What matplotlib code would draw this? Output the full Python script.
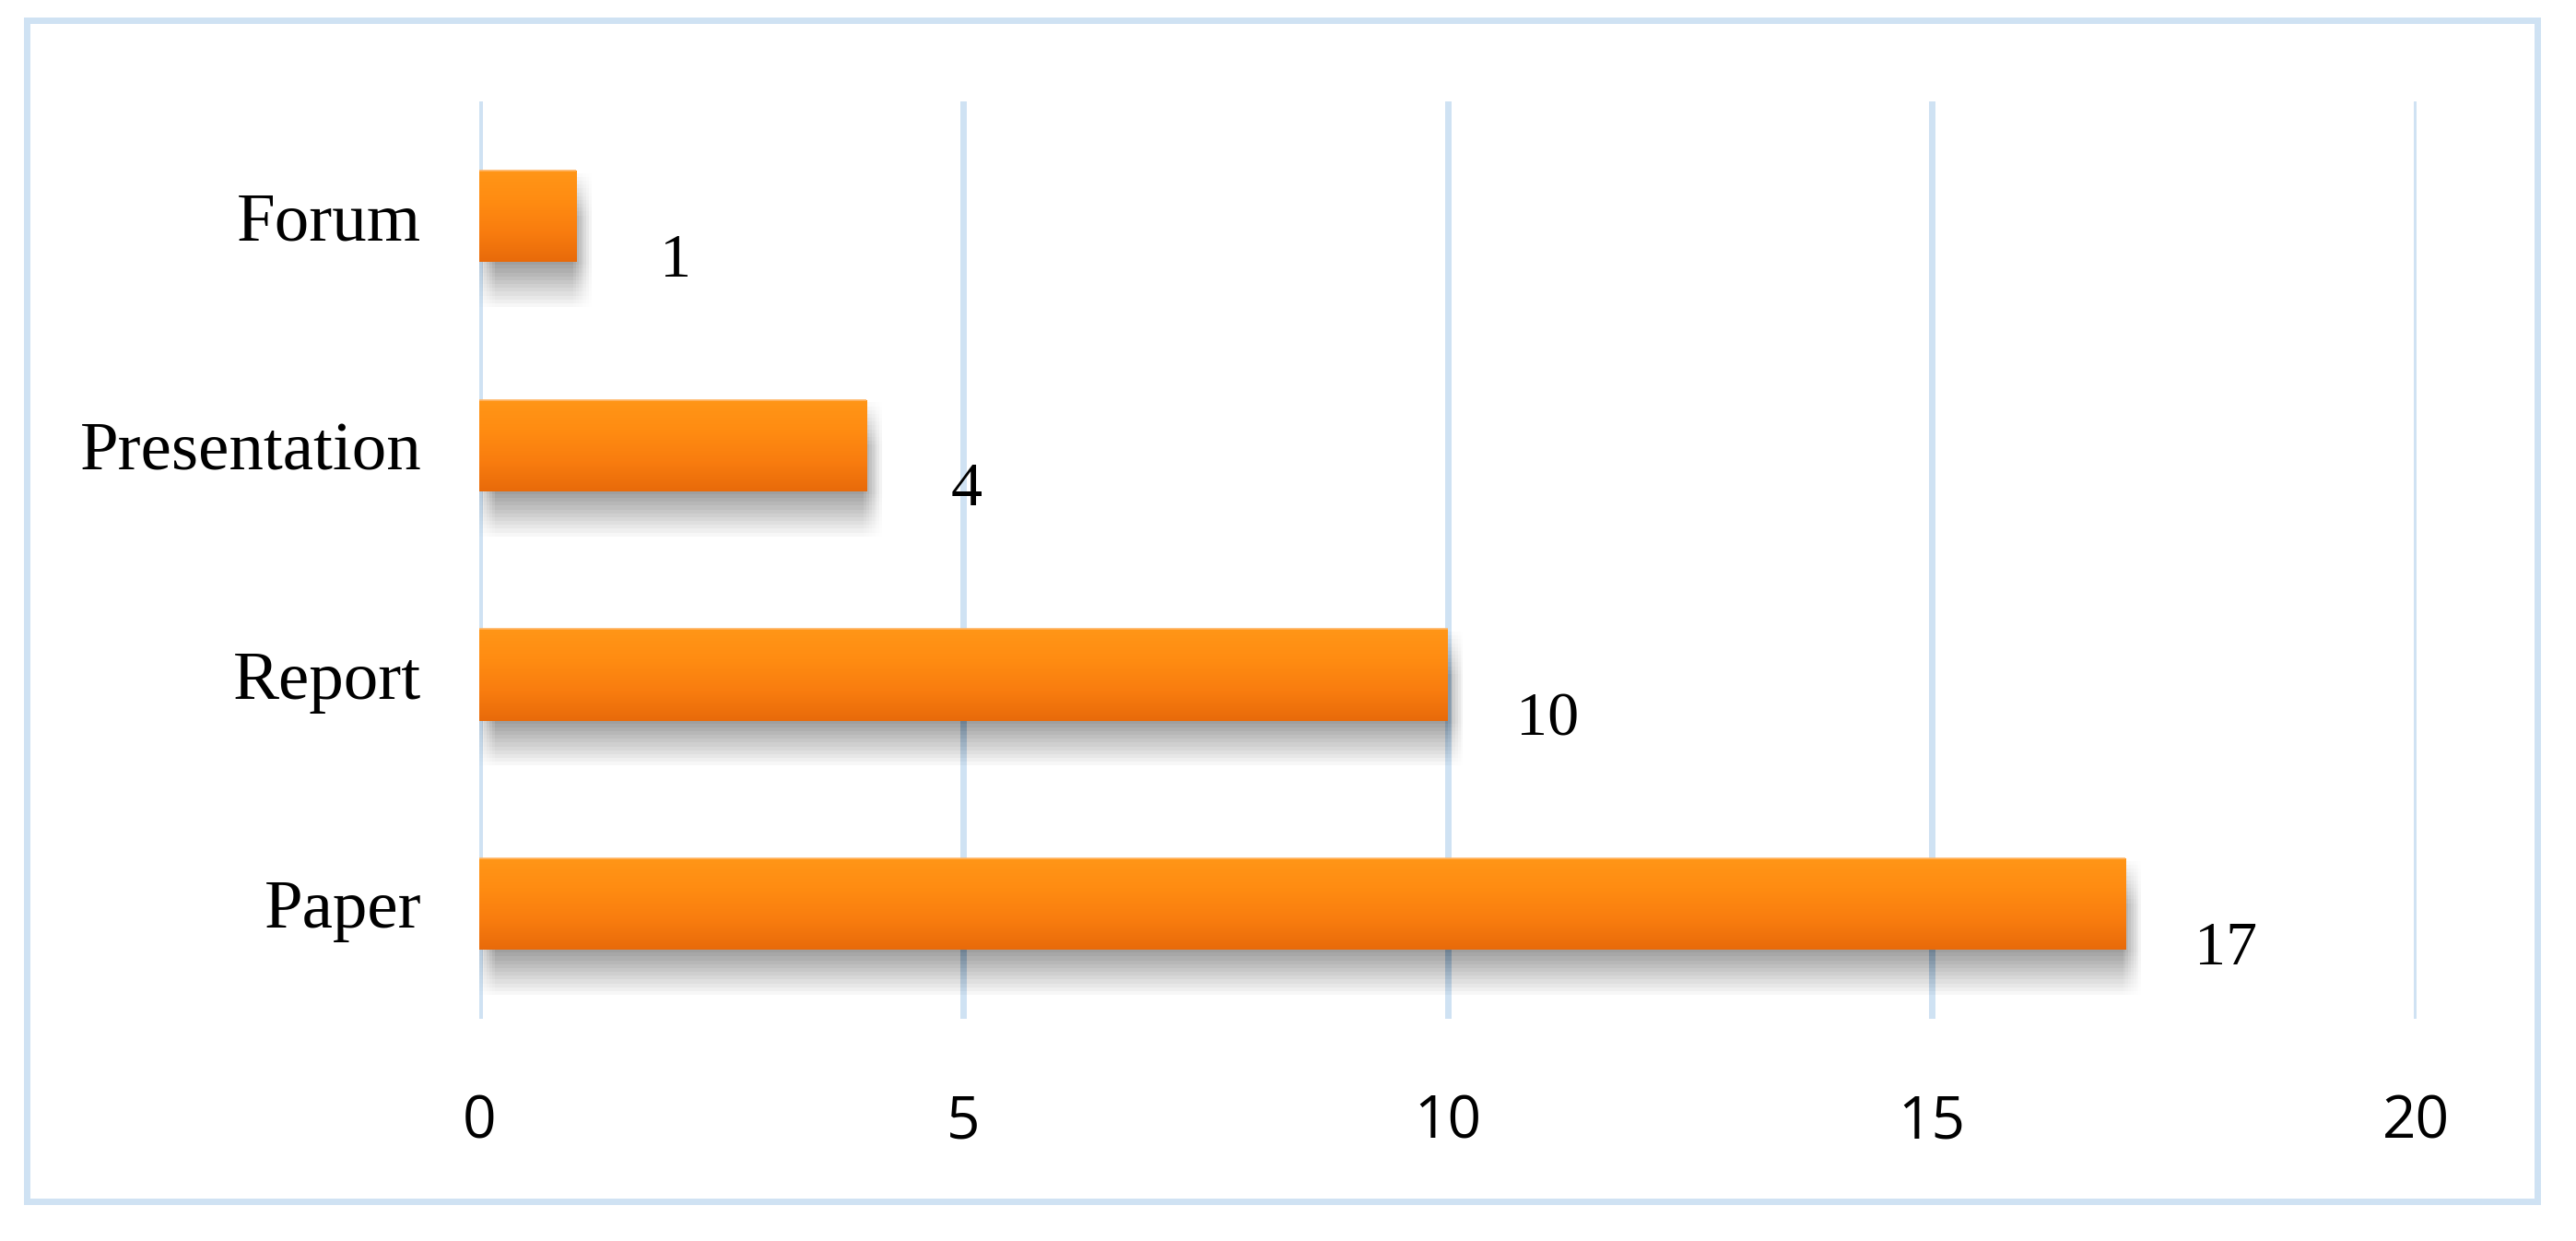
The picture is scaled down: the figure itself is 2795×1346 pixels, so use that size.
import matplotlib.pyplot as plt
import matplotlib.patheffects as pe
from matplotlib.colors import LinearSegmentedColormap
from matplotlib.patches import Rectangle
import numpy as np

# Data
categories = ['Paper', 'Report', 'Presentation', 'Forum']
counts = [17, 10, 4, 1]
x_ticks = [0, 5, 10, 15, 20]

grid_blue = '#cfe2f3'
bar_cmap = LinearSegmentedColormap.from_list(
    'bar', ['#ff9617', '#ff8c12', '#f97d0f', '#e86a0a'])

fig = plt.figure(figsize=(27.95, 13.46), dpi=100, facecolor='white')
ax = fig.add_axes([0.186, 0.179, 0.752, 0.739])

y = np.arange(len(categories))

# soft drop shadow, built from stacked offset copies
shadow = []
for dx in range(-2, 13, 2):
    for dy in range(2, 38, 3):
        shadow.append(pe.SimplePatchShadow(offset=(dx, -dy), shadow_rgbFace='black', alpha=0.0055))
shadow.append(pe.Normal())

bars = ax.barh(y, counts, height=0.4, color='#ff8c12', edgecolor='none',
               zorder=3, path_effects=shadow)

# vertical gradient on each bar
grad = np.linspace(0, 1, 256).reshape(-1, 1)
for b in bars:
    x0, y0 = b.get_x(), b.get_y()
    w, h = b.get_width(), b.get_height()
    im = ax.imshow(grad, cmap=bar_cmap, aspect='auto', origin='upper',
                   extent=(x0, x0 + w, y0, y0 + h), zorder=4)
    im.set_clip_path(b)
    # thin light edge on top
    ax.plot([x0, x0 + w], [y0 + h, y0 + h], color='#ffb565', lw=1.2, zorder=5,
            solid_capstyle='butt')

# value labels
for yi, v in zip(y, counts):
    ax.annotate(str(v), (v, yi), xytext=(78, -35), textcoords='offset points',
                ha='center', va='center', fontsize=49, family='Liberation Serif')

ax.set_xlim(0, 20)
ax.set_ylim(-0.5, len(categories) - 0.5)
ax.set_xticks(x_ticks)
ax.set_xticklabels([str(t) for t in x_ticks], fontsize=46, family='Open Sans')
ax.set_yticks(y)
ax.set_yticklabels(categories, fontsize=54, family='Liberation Serif')
ax.tick_params(axis='x', length=0, pad=58)
ax.tick_params(axis='y', length=0, pad=45)

ax.grid(axis='x', color=grid_blue, linewidth=5, zorder=0)
ax.set_axisbelow(True)
for s in ax.spines.values():
    s.set_visible(False)

# outer frame
fig.patches.append(Rectangle((0.0105, 0.032), 0.9745, 0.952, transform=fig.transFigure,
                             fill=False, edgecolor=grid_blue, linewidth=5))

fig.savefig('out.png', dpi=100, facecolor='white')
